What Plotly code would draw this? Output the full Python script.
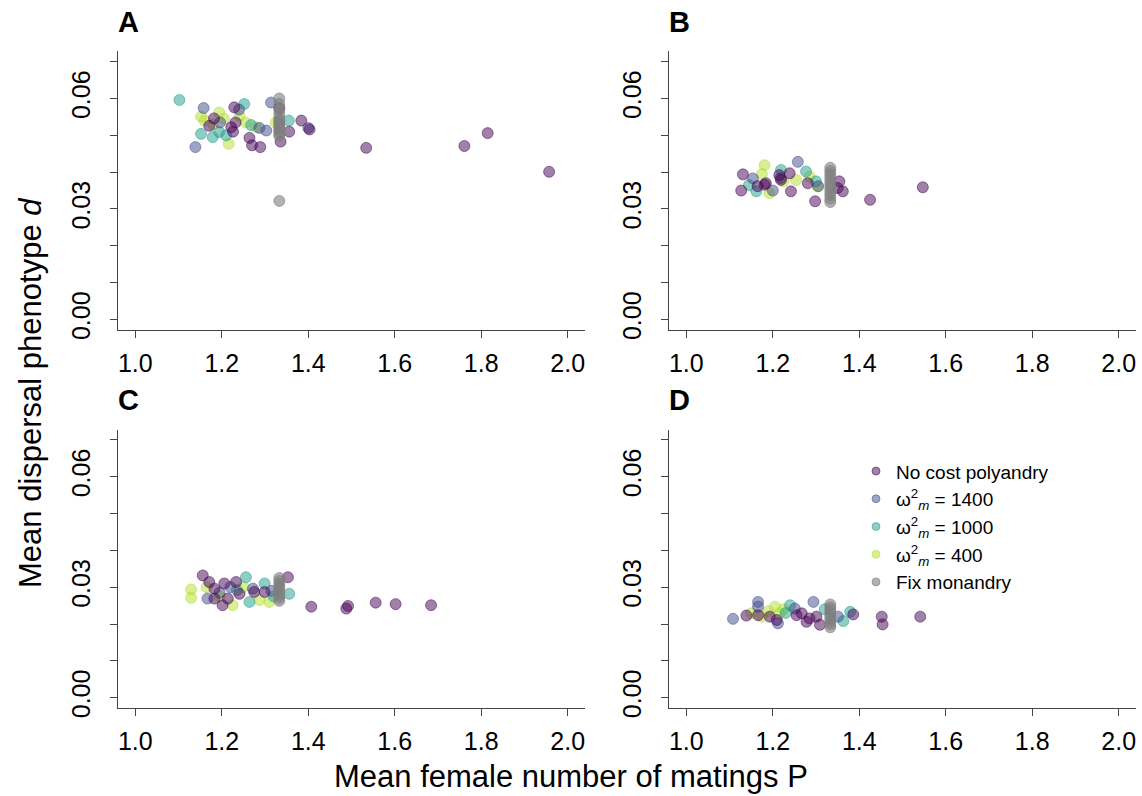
import plotly.graph_objects as go

# ---------------- data ----------------
series_names = ["No cost polyandry", "ω<sup>2</sup><sub><i>m</i></sub> = 1400",
                "ω<sup>2</sup><sub><i>m</i></sub> = 1000", "ω<sup>2</sup><sub><i>m</i></sub> = 400",
                "Fix monandry"]

# Panel A
A_nocost_x = [1.229, 1.171, 1.182, 1.222, 1.226, 1.264, 1.270, 1.289, 1.333, 1.384, 1.403, 1.356, 1.336, 1.534, 1.761, 1.815, 1.957, 1.232]
A_nocost_y = [0.0576, 0.0526, 0.0546, 0.0522, 0.0510, 0.0493, 0.0473, 0.0468, 0.0574, 0.0540, 0.0516, 0.0510, 0.0483, 0.0466, 0.0471, 0.0506, 0.0401, 0.0535]
A_1400_x = [1.158, 1.139, 1.314, 1.287, 1.303, 1.400, 1.240, 1.196]
A_1400_y = [0.0574, 0.0468, 0.0589, 0.0520, 0.0513, 0.0520, 0.0570, 0.0535]
A_1000_x = [1.102, 1.252, 1.152, 1.179, 1.194, 1.355, 1.268, 1.210]
A_1000_y = [0.0596, 0.0585, 0.0504, 0.0495, 0.0509, 0.0540, 0.0528, 0.0500]
A_400_x = [1.152, 1.194, 1.216, 1.255, 1.279, 1.325, 1.241, 1.160, 1.205, 1.180]
A_400_y = [0.0551, 0.0562, 0.0477, 0.0535, 0.0522, 0.0535, 0.0553, 0.0540, 0.0545, 0.0530]
A_fix_x = [1.333] * 14
A_fix_y = [0.0600, 0.0585, 0.0570, 0.0558, 0.0546, 0.0540, 0.0534, 0.0528, 0.0522, 0.0516, 0.0510, 0.0504, 0.0498, 0.0322]

# Panel B
B_nocost_x = [1.131, 1.127, 1.181, 1.184, 1.219, 1.239, 1.242, 1.281, 1.298, 1.354, 1.362, 1.350, 1.425, 1.547, 1.215, 1.165]
B_nocost_y = [0.0394, 0.0350, 0.0366, 0.0370, 0.0379, 0.0397, 0.0348, 0.0370, 0.0321, 0.0375, 0.0348, 0.0357, 0.0325, 0.0359, 0.0392, 0.0362]
B_1400_x = [1.154, 1.258, 1.200, 1.305, 1.218]
B_1400_y = [0.0383, 0.0428, 0.0350, 0.0362, 0.0384]
B_1000_x = [1.162, 1.219, 1.277, 1.300, 1.145]
B_1000_y = [0.0348, 0.0406, 0.0402, 0.0375, 0.0365]
B_400_x = [1.181, 1.192, 1.254, 1.304, 1.225, 1.175, 1.285]
B_400_y = [0.0419, 0.0343, 0.0379, 0.0361, 0.0375, 0.0395, 0.0388]
B_fix_x = [1.333] * 11
B_fix_y = [0.0412, 0.0403, 0.0394, 0.0385, 0.0375, 0.0366, 0.0357, 0.0347, 0.0338, 0.0328, 0.0319]

# Panel C
C_nocost_x = [1.156, 1.171, 1.183, 1.183, 1.206, 1.233, 1.214, 1.202, 1.241, 1.275, 1.299, 1.353, 1.407, 1.488, 1.492, 1.556, 1.602, 1.684]
C_nocost_y = [0.0332, 0.0314, 0.0296, 0.0269, 0.0310, 0.0314, 0.0269, 0.0251, 0.0282, 0.0287, 0.0287, 0.0327, 0.0247, 0.0242, 0.0249, 0.0258, 0.0254, 0.0251]
C_1400_x = [1.167, 1.272, 1.220, 1.195, 1.315]
C_1400_y = [0.0269, 0.0296, 0.0300, 0.0285, 0.0290]
C_1000_x = [1.256, 1.264, 1.299, 1.356, 1.320, 1.235]
C_1000_y = [0.0327, 0.0260, 0.0310, 0.0282, 0.0275, 0.0292]
C_400_x = [1.129, 1.129, 1.225, 1.310, 1.287, 1.165, 1.250, 1.195]
C_400_y = [0.0294, 0.0271, 0.0251, 0.0260, 0.0265, 0.0300, 0.0300, 0.0275]
C_fix_x = [1.333] * 9
C_fix_y = [0.0325, 0.0317, 0.0309, 0.0301, 0.0294, 0.0286, 0.0278, 0.0270, 0.0263]

# Panel D
D_nocost_x = [1.139, 1.166, 1.193, 1.209, 1.255, 1.267, 1.278, 1.301, 1.309, 1.386, 1.452, 1.454, 1.541, 1.285]
D_nocost_y = [0.0223, 0.0224, 0.0220, 0.0211, 0.0224, 0.0229, 0.0206, 0.0220, 0.0198, 0.0226, 0.0220, 0.0199, 0.0220, 0.0215]
D_1400_x = [1.108, 1.166, 1.166, 1.212, 1.251, 1.294, 1.351]
D_1400_y = [0.0214, 0.0260, 0.0247, 0.0202, 0.0242, 0.0260, 0.0220]
D_1000_x = [1.240, 1.363, 1.379, 1.230, 1.320]
D_1000_y = [0.0251, 0.0208, 0.0233, 0.0230, 0.0240]
D_400_x = [1.150, 1.205, 1.216, 1.190, 1.225, 1.175]
D_400_y = [0.0229, 0.0247, 0.0229, 0.0235, 0.0240, 0.0220]
D_fix_x = [1.333] * 9
D_fix_y = [0.0253, 0.0245, 0.0238, 0.0230, 0.0222, 0.0214, 0.0206, 0.0199, 0.0191]

panel_labels = ["A", "B", "C", "D"]
x_tickvals = [1.0, 1.2, 1.4, 1.6, 1.8, 2.0]
x_ticktext = ["1.0", "1.2", "1.4", "1.6", "1.8", "2.0"]
y_tickvals = [0.00, 0.01, 0.02, 0.03, 0.04, 0.05, 0.06, 0.07]
y_ticktext = ["0.00", "", "", "0.03", "", "", "0.06", ""]

# ---------------- styling ----------------
W, H = 1142, 796
colors = ["rgba(68,1,84,0.5)", "rgba(62,74,137,0.5)", "rgba(31,158,137,0.5)",
          "rgba(180,222,44,0.5)", "rgba(127,127,127,0.6)"]

panels = [
    (A_nocost_x, A_nocost_y, A_1400_x, A_1400_y, A_1000_x, A_1000_y, A_400_x, A_400_y, A_fix_x, A_fix_y),
    (B_nocost_x, B_nocost_y, B_1400_x, B_1400_y, B_1000_x, B_1000_y, B_400_x, B_400_y, B_fix_x, B_fix_y),
    (C_nocost_x, C_nocost_y, C_1400_x, C_1400_y, C_1000_x, C_1000_y, C_400_x, C_400_y, C_fix_x, C_fix_y),
    (D_nocost_x, D_nocost_y, D_1400_x, D_1400_y, D_1000_x, D_1000_y, D_400_x, D_400_y, D_fix_x, D_fix_y),
]

# pixel boxes of the four plot regions (left, right, top, bottom)
boxes = [(118, 585, 52, 334), (669, 1136, 52, 334), (118, 585, 435, 717), (669, 1136, 435, 717)]

fig = go.Figure()
draw_order = [3, 2, 1, 0, 4]  # green, teal, blue, purple, grey
for p, data in enumerate(panels):
    xa = "x" if p == 0 else f"x{p+1}"
    ya = "y" if p == 0 else f"y{p+1}"
    for s in draw_order:
        xs, ys = data[2 * s], data[2 * s + 1]
        fig.add_trace(go.Scatter(
            x=xs, y=ys, mode="markers", xaxis=xa, yaxis=ya, showlegend=False,
            marker=dict(size=11, color=colors[s], line=dict(width=1, color=colors[s])),
            hoverinfo="x+y"))

# legend entries (in panel D)
for s in range(5):
    fig.add_trace(go.Scatter(
        x=[None], y=[None], mode="markers", xaxis="x4", yaxis="y4", name=series_names[s],
        marker=dict(size=8, color=colors[s], line=dict(width=1, color=colors[s])),
        showlegend=True))

axis_common = dict(showline=True, linecolor="#444444", linewidth=1.3, ticks="outside",
                   ticklen=7, tickwidth=1.3, tickcolor="#444444", showgrid=False, zeroline=False,
                   tickfont=dict(family="Arial, Liberation Sans, sans-serif", size=25, color="black"))

layout = dict(width=W, height=H, margin=dict(l=0, r=0, t=0, b=0),
              plot_bgcolor="white", paper_bgcolor="white",
              font=dict(family="Arial, Liberation Sans, sans-serif", color="black"))
for p, (l, r, t, b) in enumerate(boxes):
    sx = "xaxis" if p == 0 else f"xaxis{p+1}"
    sy = "yaxis" if p == 0 else f"yaxis{p+1}"
    xa_anchor = "y" if p == 0 else f"y{p+1}"
    ya_anchor = "x" if p == 0 else f"x{p+1}"
    layout[sx] = dict(axis_common, domain=[l / W, r / W], range=[0.96, 2.04], anchor=xa_anchor,
                      tickvals=x_tickvals, ticktext=x_ticktext, ticklabelstandoff=4)
    layout[sy] = dict(axis_common, domain=[1 - b / H, 1 - t / H], range=[-0.0028, 0.0728],
                      anchor=ya_anchor, tickvals=y_tickvals, ticktext=y_ticktext,
                      tickangle=-90, ticklabelstandoff=10)

annotations = []
for p, (l, r, t, b) in enumerate(boxes):
    annotations.append(dict(text=f"<b>{panel_labels[p]}</b>", xref="paper", yref="paper",
                            x=(l - 2) / W, y=1 - (t - 30) / H, xanchor="left", yanchor="middle",
                            showarrow=False, font=dict(size=29, color="black")))
annotations.append(dict(text="Mean female number of matings P", xref="paper", yref="paper",
                        x=571 / W, y=1 - 786 / H, xanchor="center", yanchor="middle",
                        showarrow=False, font=dict(size=31, color="black")))
annotations.append(dict(text="Mean dispersal phenotype <i>d</i>", xref="paper", yref="paper",
                        x=30 / W, y=1 - 398 / H, xanchor="center", yanchor="middle", textangle=-90,
                        showarrow=False, font=dict(size=31, color="black")))
layout["annotations"] = annotations
layout["legend"] = dict(x=856 / W, y=1 - 458 / H, xanchor="left", yanchor="top",
                        bgcolor="rgba(0,0,0,0)", font=dict(size=19, color="black"),
                        tracegroupgap=0, itemsizing="trace")
fig.update_layout(**layout)

fig.write_html("out.html")
